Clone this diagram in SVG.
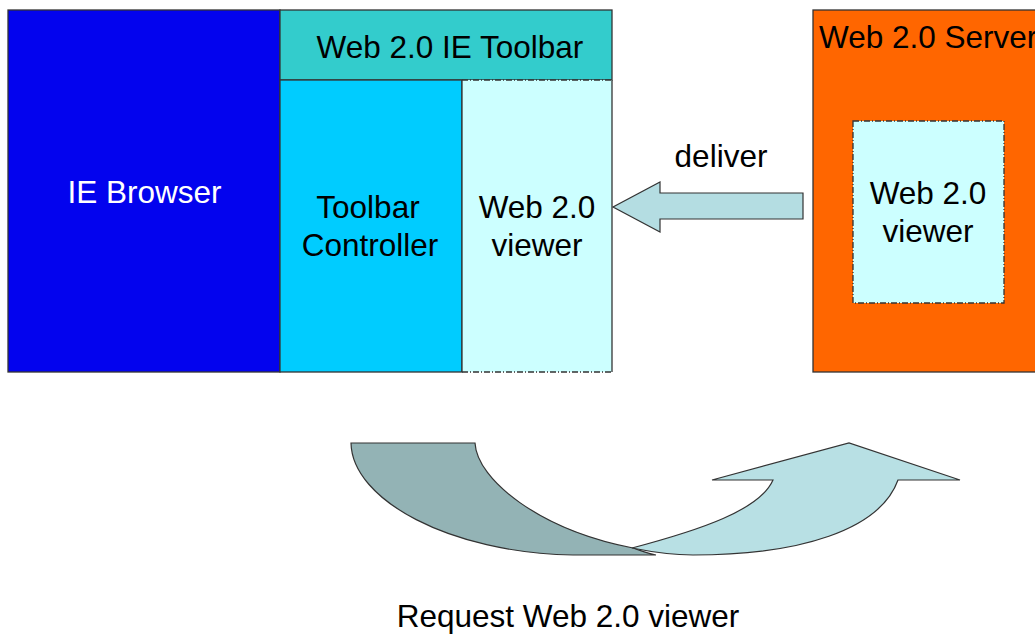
<svg xmlns="http://www.w3.org/2000/svg" width="1035" height="637" viewBox="0 0 1035 637">
<style>
text{font-family:"Liberation Sans",Arial,sans-serif;font-size:31.5px;fill:#000;text-anchor:middle}
.box{stroke:#333;stroke-width:1.3}
.dash{stroke:#333;stroke-width:1.3;stroke-dasharray:6 2 1 2}
</style>
<rect width="1035" height="637" fill="#fff"/>
<g id="ie-browser">
<rect class="box" x="8" y="10" width="272" height="362" fill="#0303EE"/>
<text x="144.5" y="203" style="fill:#fff">IE Browser</text>
</g>
<g id="toolbar">
<rect class="box" x="280" y="10" width="332" height="70" fill="#33CCCC"/>
<text x="450" y="58">Web 2.0 IE Toolbar</text>
</g>
<g id="toolbar-controller">
<rect class="box" x="280" y="80" width="182" height="292" fill="#00CCFF"/>
<text x="368" y="218">Toolbar</text>
<text x="370" y="256">Controller</text>
</g>
<g id="viewer">
<rect x="462" y="80" width="150" height="292" fill="#CCFFFF"/>
<line class="box" x1="462" y1="80" x2="462" y2="372"/>
<line class="box" x1="612" y1="80" x2="612" y2="372"/>
<line class="dash" x1="462" y1="80" x2="612" y2="80"/>
<line class="dash" x1="462" y1="372" x2="612" y2="372"/>
<text x="537" y="218">Web 2.0</text>
<text x="537" y="256">viewer</text>
</g>
<g id="server">
<rect class="box" x="813" y="10" width="230" height="362" fill="#FF6600"/>
<text x="819" y="48" style="text-anchor:start">Web 2.0 Server</text>
</g>
<g id="server-viewer">
<rect class="dash" x="853" y="121" width="151" height="182" fill="#CCFFFF"/>
<text x="928" y="204">Web 2.0</text>
<text x="928" y="242">viewer</text>
</g>
<g id="connectors" stroke="#333" stroke-width="1.2" stroke-linejoin="miter">
<path d="M803,193 L660,193 L660,182 L613,207 L660,232 L660,219 L803,219 Z" fill="#B4DDE2"/>
<path d="M351,443 L475,443 C477,480 540,530 633,548 C642,551 650,554 656,555 L573,555 C450,553 352,500 351,443 Z" fill="#93B3B5"/>
<path d="M632,548 C700,530 760,510 773,480 L712,480 L849,443 L960,480 L898,480 C880,530 800,555 693,555 C672,555 652,552 632,548 Z" fill="#B8E0E4"/>
</g>
<text x="568" y="627">Request Web 2.0 viewer</text>
<text x="721" y="167">deliver</text>
</svg>
